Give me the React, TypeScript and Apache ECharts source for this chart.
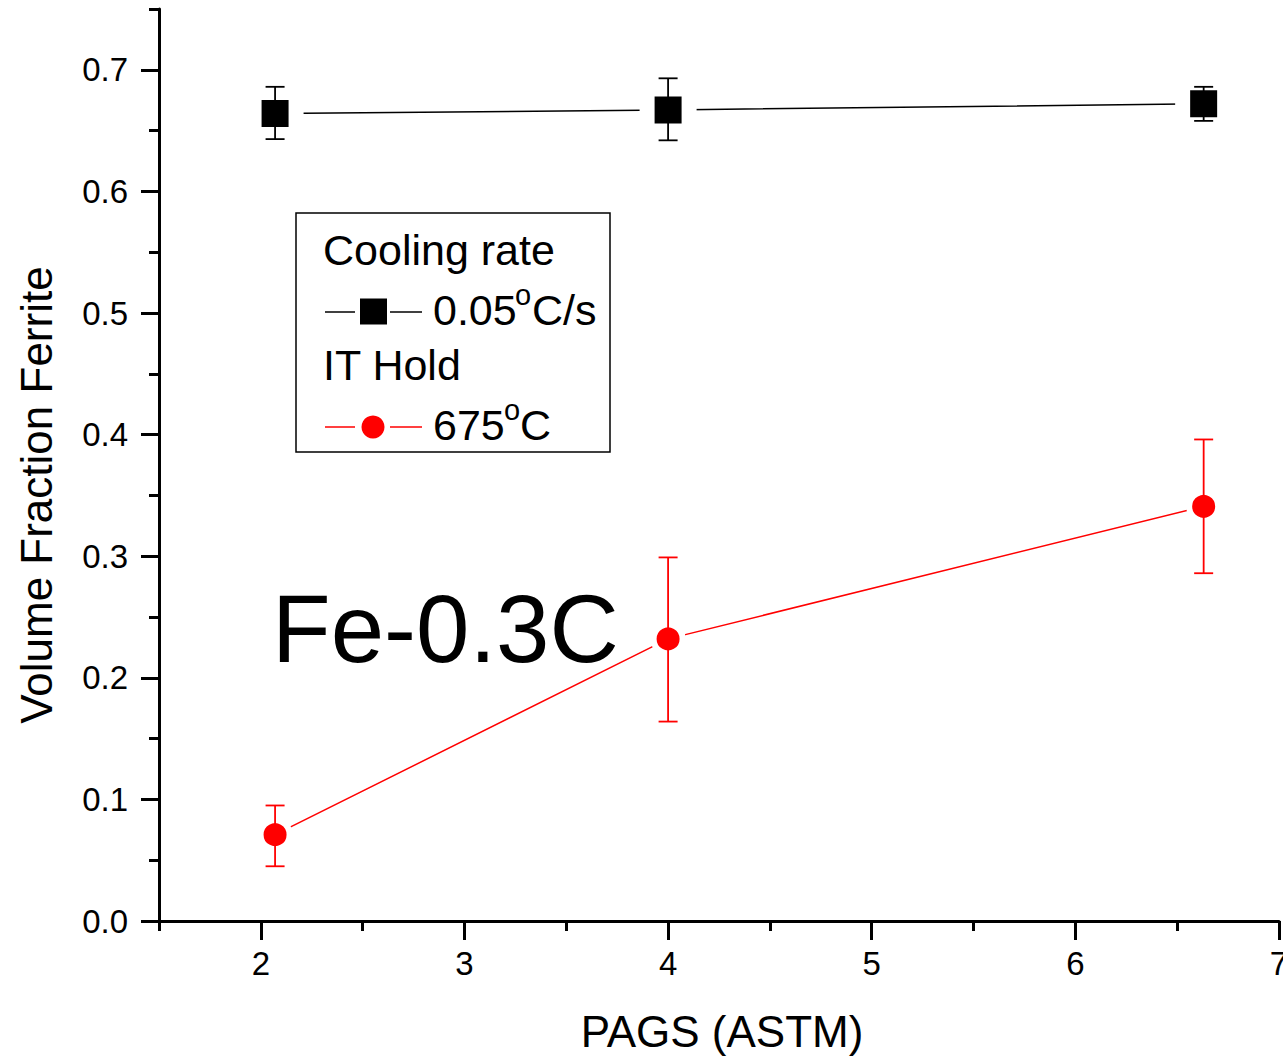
import React, { useEffect, useRef } from "react";
import * as echarts from "echarts";

// PAGS (ASTM grain size number) of the three specimens
const pags = [2.07, 4.0, 6.63];

// Continuous cooling at 0.05 °C/s
const coolingFrac = [0.664, 0.667, 0.672];
const coolingLow = [0.643, 0.642, 0.658];
const coolingHigh = [0.686, 0.693, 0.686];

// Isothermal hold at 675 °C
const holdFrac = [0.071, 0.232, 0.341];
const holdLow = [0.045, 0.164, 0.286];
const holdHigh = [0.095, 0.299, 0.396];

// Axis ticks
const xMajorTicks = [2, 3, 4, 5, 6, 7];
const xMinorTicks = [1.5, 2.5, 3.5, 4.5, 5.5, 6.5];
const yMajorTicks = [0, 0.1, 0.2, 0.3, 0.4, 0.5, 0.6, 0.7];
const yMinorTicks = [0.05, 0.15, 0.25, 0.35, 0.45, 0.55, 0.65, 0.75];

const FONT = "'Liberation Sans', Arial, Helvetica, sans-serif";
const BLACK = "#000000";
const RED = "#ff0000";

const W = 1283;
const H = 1056;
const GRID = { left: 159, right: 4, top: 9, bottom: 135, containLabel: false, outerBoundsMode: "none" };

function errorBarSeries(low: number[], high: number[], color: string) {
  return {
    type: "custom",
    xAxisIndex: 0,
    yAxisIndex: 0,
    z: 4,
    silent: true,
    data: pags.map((x, i) => [x, low[i], high[i]]),
    encode: { x: 0, y: [1, 2] },
    renderItem: (params: any, api: any) => {
      const x = api.value(0);
      const top = api.coord([x, api.value(2)]);
      const bot = api.coord([x, api.value(1)]);
      const half = 9.5;
      const style = { stroke: color, lineWidth: 1.8 };
      return {
        type: "group",
        children: [
          { type: "line", shape: { x1: top[0], y1: top[1], x2: bot[0], y2: bot[1] }, style },
          { type: "line", shape: { x1: top[0] - half, y1: top[1], x2: top[0] + half, y2: top[1] }, style },
          { type: "line", shape: { x1: bot[0] - half, y1: bot[1], x2: bot[0] + half, y2: bot[1] }, style },
        ],
      };
    },
  };
}

function txt(text: string, x: number, y: number, size: number, align = "left", extra: any = {}) {
  return {
    type: "text",
    x,
    y,
    z: 11,
    silent: true,
    ...extra,
    style: {
      text,
      fill: BLACK,
      fontSize: size,
      fontFamily: FONT,
      align,
      textAlign: align,
      verticalAlign: "middle",
      textVerticalAlign: "middle",
    },
  };
}

function seg(x1: number, x2: number, y: number, color: string) {
  return {
    type: "line",
    z: 11,
    silent: true,
    shape: { x1, y1: y, x2, y2: y },
    style: { stroke: color, lineWidth: 1.5 },
  };
}

export default function App() {
  const ref = useRef<HTMLDivElement>(null);

  useEffect(() => {
    if (!ref.current) return;
    document.body.style.margin = "0";
    document.body.style.overflow = "hidden";
    const chart = echarts.init(ref.current, undefined, { renderer: "svg", width: W, height: H });

    const axisLineStyle = { color: BLACK, width: 3 };

    const option: any = {
      animation: false,
      backgroundColor: "#ffffff",
      grid: [{ ...GRID }, { ...GRID }],
      xAxis: [
        {
          type: "value",
          gridIndex: 0,
          min: 1.5,
          max: 7,
          axisLine: { show: true, lineStyle: axisLineStyle },
          axisTick: { show: true, customValues: xMajorTicks, length: 19, lineStyle: axisLineStyle },
          axisLabel: {
            show: true,
            customValues: xMajorTicks,
            margin: 26,
            color: BLACK,
            fontSize: 33,
            fontFamily: FONT,
            hideOverlap: false,
            formatter: (v: number) => String(v),
          },
          splitLine: { show: false },
        },
        {
          type: "value",
          gridIndex: 1,
          min: 1.5,
          max: 7,
          axisLine: { show: false },
          axisTick: { show: true, customValues: xMinorTicks, length: 10, lineStyle: axisLineStyle },
          axisLabel: { show: false },
          splitLine: { show: false },
        },
      ],
      yAxis: [
        {
          type: "value",
          gridIndex: 0,
          min: 0,
          max: 0.75,
          axisLine: { show: true, lineStyle: axisLineStyle },
          axisTick: { show: true, customValues: yMajorTicks, length: 18, lineStyle: axisLineStyle },
          axisLabel: {
            show: true,
            customValues: yMajorTicks,
            margin: 31,
            color: BLACK,
            fontSize: 33,
            fontFamily: FONT,
            formatter: (v: number) => v.toFixed(1),
          },
          splitLine: { show: false },
        },
        {
          type: "value",
          gridIndex: 1,
          min: 0,
          max: 0.75,
          axisLine: { show: false },
          axisTick: { show: true, customValues: yMinorTicks, length: 10, lineStyle: axisLineStyle },
          axisLabel: { show: false },
          splitLine: { show: false },
        },
      ],
      series: [
        {
          name: "0.05°C/s",
          type: "line",
          xAxisIndex: 0,
          yAxisIndex: 0,
          data: pags.map((x, i) => [x, coolingFrac[i]]),
          symbol: "rect",
          symbolSize: 42,
          lineStyle: { color: BLACK, width: 1.5 },
          itemStyle: { color: BLACK, borderColor: "#ffffff", borderWidth: 15 },
          silent: true,
          z: 2,
        },
        {
          name: "675°C",
          type: "line",
          xAxisIndex: 0,
          yAxisIndex: 0,
          data: pags.map((x, i) => [x, holdFrac[i]]),
          symbol: "circle",
          symbolSize: 29,
          lineStyle: { color: RED, width: 1.5 },
          itemStyle: { color: RED, borderColor: "#ffffff", borderWidth: 6 },
          silent: true,
          z: 2,
        },
        errorBarSeries(coolingLow, coolingHigh, BLACK),
        errorBarSeries(holdLow, holdHigh, RED),
      ],
      graphic: [
        // axis titles
        txt("Volume Fraction Ferrite", 36, 495, 44, "center", { rotation: Math.PI / 2 }),
        txt("PAGS (ASTM)", 722, 1031, 44, "center"),
        // sample label
        txt("Fe-0.3C", 272, 628, 96, "left"),
        // legend box
        {
          type: "rect",
          silent: true,
          z: 10,
          shape: { x: 296, y: 213, width: 314, height: 239 },
          style: { fill: "#ffffff", stroke: BLACK, lineWidth: 1.5 },
        },
        txt("Cooling rate", 323, 250, 43, "left"),
        seg(325, 355, 312, BLACK),
        seg(390, 422, 312, BLACK),
        { type: "rect", z: 11, silent: true, shape: { x: 360, y: 298.5, width: 27, height: 26 }, style: { fill: BLACK } },
        txt("0.05", 433, 310, 43, "left"),
        txt("o", 515, 295, 29, "left"),
        txt("C/s", 532, 310, 43, "left"),
        txt("IT Hold", 323, 365, 43, "left"),
        seg(325, 355, 427, RED),
        seg(390, 422, 427, RED),
        { type: "circle", z: 11, silent: true, shape: { cx: 373, cy: 427, r: 11.5 }, style: { fill: RED } },
        txt("675", 433, 425, 43, "left"),
        txt("o", 504, 410, 29, "left"),
        txt("C", 520, 425, 43, "left"),
      ],
    };

    chart.setOption(option);
    return () => chart.dispose();
  }, []);

  return (
    <div
      ref={ref}
      style={{ position: "absolute", left: 0, top: 0, width: W, height: H, background: "#fff" }}
    />
  );
}
